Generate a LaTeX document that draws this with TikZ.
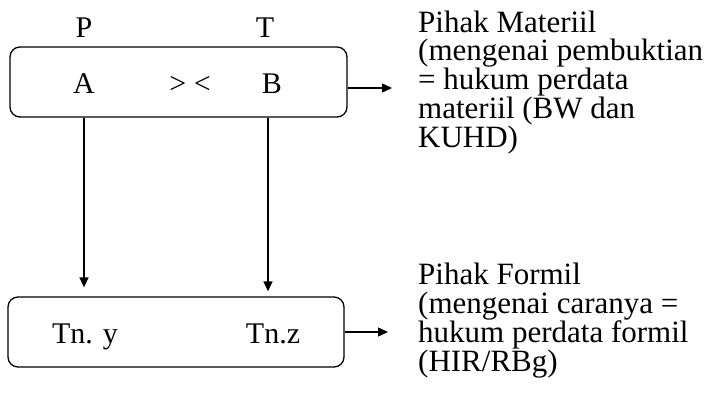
\documentclass[tikz,border=0pt]{standalone}
\usepackage{fontspec}
\setmainfont{Liberation Serif}
\usepackage{tikz}
\usetikzlibrary{arrows.meta, positioning, calc}

\begin{document}
\begin{tikzpicture}[
    x=1pt, y=1pt,
    pihak/.style={rectangle, draw, rounded corners=10pt, line width=1.3pt,
                  minimum height=70pt, inner sep=0pt},
    huruf/.style={font=\fontsize{30}{29}\selectfont, inner sep=0pt},
    ket/.style={font=\fontsize{31}{28.7}\selectfont, align=left, inner sep=0pt},
    arrow/.style={-{Triangle[length=10pt, width=9pt]}, line width=1.4pt}
]
    \useasboundingbox (0,0) rectangle (715,-396);

    % Pihak materiil
    \node[pihak, minimum width=337pt] (materiil) at (178.5,-82) {};
    \node[huruf, anchor=base] (a) at (84,-93) {A};
    \node[huruf, anchor=base] (lawan) at (190,-93) {> <};
    \node[huruf, anchor=base] (b) at (272,-93) {B};
    \node[huruf, anchor=base] (p) at (84,-38) {P};
    \node[huruf, anchor=base] (t) at (265,-38) {T};

    % Pihak formil
    \node[pihak, minimum width=336pt] (formil) at (176,-332) {};
    \node[huruf, anchor=base] (tny) at (85,-343) {Tn. y};
    \node[huruf, anchor=base] (tnz) at (273,-343) {Tn.z};

    % Keterangan (base = baseline of the last line)
    \node[ket, anchor=base west] (ketmateriil) at (418,-147)
        {Pihak Materiil\\(mengenai pembuktian\\= hukum perdata\\materiil (BW dan\\KUHD)};
    \node[ket, anchor=base west] (ketformil) at (418,-371)
        {Pihak Formil\\(mengenai caranya =\\hukum perdata formil\\(HIR/RBg)};

    % Arrows
    \coordinate (ujung1) at (392,-88);
    \coordinate (ujung2) at (388,-332);
    \draw[arrow] (materiil.east |- ujung1) -- (ujung1);
    \draw[arrow] (formil.east) -- (ujung2);
    \draw[arrow] (materiil.south -| p) -- ([yshift=9pt]formil.north -| p);
    \draw[arrow] ([xshift=-4pt]materiil.south -| b) -- ([xshift=-4pt, yshift=5pt]formil.north -| b);

\end{tikzpicture}
\end{document}
